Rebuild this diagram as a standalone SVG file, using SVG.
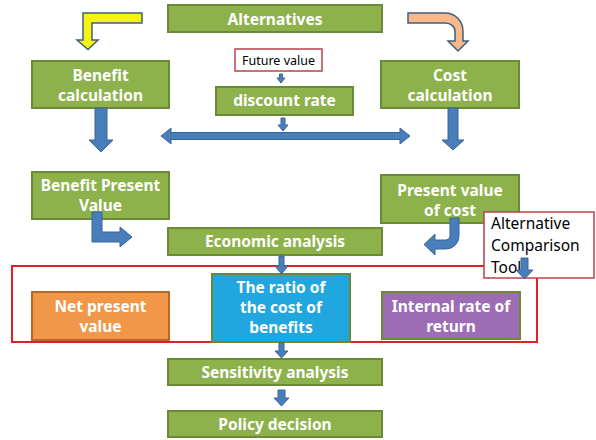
<svg xmlns="http://www.w3.org/2000/svg" width="596" height="440" viewBox="0 0 596 440">
  <style>
    .box { fill: #8db24c; stroke: #6b8a35; stroke-width: 2; }
    .lbl { font-family: "Noto Sans", "Open Sans", sans-serif; font-weight: bold; font-size: 15.5px; fill: #ffffff; text-anchor: middle; }
    .note { font-family: "Noto Sans", "Open Sans", sans-serif; fill: #000000; }
    .arr { fill: #4a7ebb; stroke: #3a6597; stroke-width: 1; }
  </style>
  <rect width="596" height="440" fill="#ffffff"/>

  <!-- tool frame -->
  <rect id="tool-frame" x="12" y="266" width="525" height="76" fill="none" stroke="#e02027" stroke-width="2"/>

  <g id="alternatives">
    <rect class="box" x="168" y="5" width="214" height="27"/>
    <text class="lbl" x="275" y="24.5">Alternatives</text>
  </g>
  <g id="benefit-calculation">
    <rect class="box" x="32" y="61" width="137" height="47"/>
    <text class="lbl" x="100.5" y="81">Benefit</text>
    <text class="lbl" x="100.5" y="101">calculation</text>
  </g>
  <g id="cost-calculation">
    <rect class="box" x="381" y="61" width="138" height="47"/>
    <text class="lbl" x="450" y="81">Cost</text>
    <text class="lbl" x="450" y="101">calculation</text>
  </g>
  <g id="future-value">
    <rect x="235" y="49" width="87" height="22" fill="#ffffff" stroke="#b8434a" stroke-width="1.5"/>
    <text class="note" x="278.5" y="64.5" font-size="12.5" text-anchor="middle">Future value</text>
  </g>
  <g id="discount-rate">
    <rect class="box" x="216" y="87" width="137" height="28"/>
    <text class="lbl" x="284.5" y="106">discount rate</text>
  </g>
  <g id="benefit-present-value">
    <rect class="box" x="32" y="172" width="137" height="47"/>
    <text class="lbl" x="100.5" y="190.5">Benefit Present</text>
    <text class="lbl" x="100.5" y="210.5">Value</text>
  </g>
  <g id="present-value-of-cost">
    <rect class="box" x="381" y="175" width="138" height="48"/>
    <text class="lbl" x="450" y="195.5">Present value</text>
    <text class="lbl" x="450" y="215.5">of cost</text>
  </g>
  <g id="economic-analysis">
    <rect class="box" x="168" y="228" width="214" height="27"/>
    <text class="lbl" x="275" y="247">Economic analysis</text>
  </g>
  <g id="net-present-value">
    <rect x="32" y="292" width="137" height="48" fill="#f0974a" stroke="#b4692c" stroke-width="2"/>
    <text class="lbl" x="100.5" y="312">Net present</text>
    <text class="lbl" x="100.5" y="332">value</text>
  </g>
  <g id="cost-benefit-ratio">
    <rect x="212" y="274" width="138" height="68" fill="#21a6e0" stroke="#6b8a35" stroke-width="2"/>
    <text class="lbl" x="281" y="293">The ratio of</text>
    <text class="lbl" x="281" y="313">the cost of</text>
    <text class="lbl" x="281" y="333">benefits</text>
  </g>
  <g id="internal-rate-of-return">
    <rect x="382" y="292" width="138" height="47" fill="#9c6cb4" stroke="#6b8a35" stroke-width="2"/>
    <text class="lbl" x="451" y="312">Internal rate of</text>
    <text class="lbl" x="451" y="332">return</text>
  </g>
  <g id="sensitivity-analysis">
    <rect class="box" x="168" y="359" width="214" height="26"/>
    <text class="lbl" x="275" y="378">Sensitivity analysis</text>
  </g>
  <g id="policy-decision">
    <rect class="box" x="168" y="411" width="214" height="26"/>
    <text class="lbl" x="275" y="430">Policy decision</text>
  </g>
  <g id="comparison-tool">
    <rect x="484" y="212" width="110" height="66" fill="#ffffff" stroke="#b8434a" stroke-width="1.5"/>
    <text class="note" x="491" y="229" font-size="15.5">Alternative</text>
    <text class="note" x="491" y="251" font-size="15.5">Comparison</text>
    <text class="note" x="491" y="273" font-size="15.5">Tool</text>
  </g>

  <g id="connectors">
    <!-- split from alternatives -->
    <path d="M142,13 H83 V40 H77 L88,49.5 L98,40 H92 V23 H142 Z" fill="#f5f214" stroke="#40607f" stroke-width="1.5"/>
    <path d="M408,13 H445 A18,18 0 0 1 463,31 V41 H468 L458,51 L448,41 H455 V31 A10,8 0 0 0 445,23 H408 Z" fill="#f7b98a" stroke="#40607f" stroke-width="1.5"/>
    <!-- rate inputs -->
    <path class="arr" d="M279.5,74 H282.5 V78 H285 L281,83 L277,78 H279.5 Z"/>
    <path class="arr" d="M281,118 H285 V125 H288 L283,131 L278,125 H281 Z"/>
    <path class="arr" d="M161,136 L171,128 V132.5 H400 V128 L410,136 L400,144 V139.5 H171 V144 Z"/>
    <!-- to present values -->
    <path class="arr" d="M95,108 H107 V140 H113 L101,152 L89,140 H95 Z"/>
    <path class="arr" d="M448,108 H458 V140 H464 L453,150 L442,140 H448 Z"/>
    <!-- into economic analysis -->
    <path class="arr" d="M92,212 H102 V232 H120 V227 L132,237 L120,247 V242 H92 Z"/>
    <path class="arr" d="M450,218 H459 V236 A13,13 0 0 1 446,249 H435 V255 L424,244.5 L435,234 V240 H446 A4,4 0 0 0 450,236 Z"/>
    <!-- tool chain -->
    <path class="arr" d="M521,258 H528 V270 H533 L524.5,279 L516,270 H521 Z"/>
    <path class="arr" d="M279,256 H284 V266 H288 L281.5,274 L275,266 H279 Z"/>
    <path class="arr" d="M279,343 H284 V351 H288 L281.5,358 L275,351 H279 Z"/>
    <path class="arr" d="M278,390 H285 V398 H289 L281.5,406 L274,398 H278 Z"/>
  </g>
</svg>
